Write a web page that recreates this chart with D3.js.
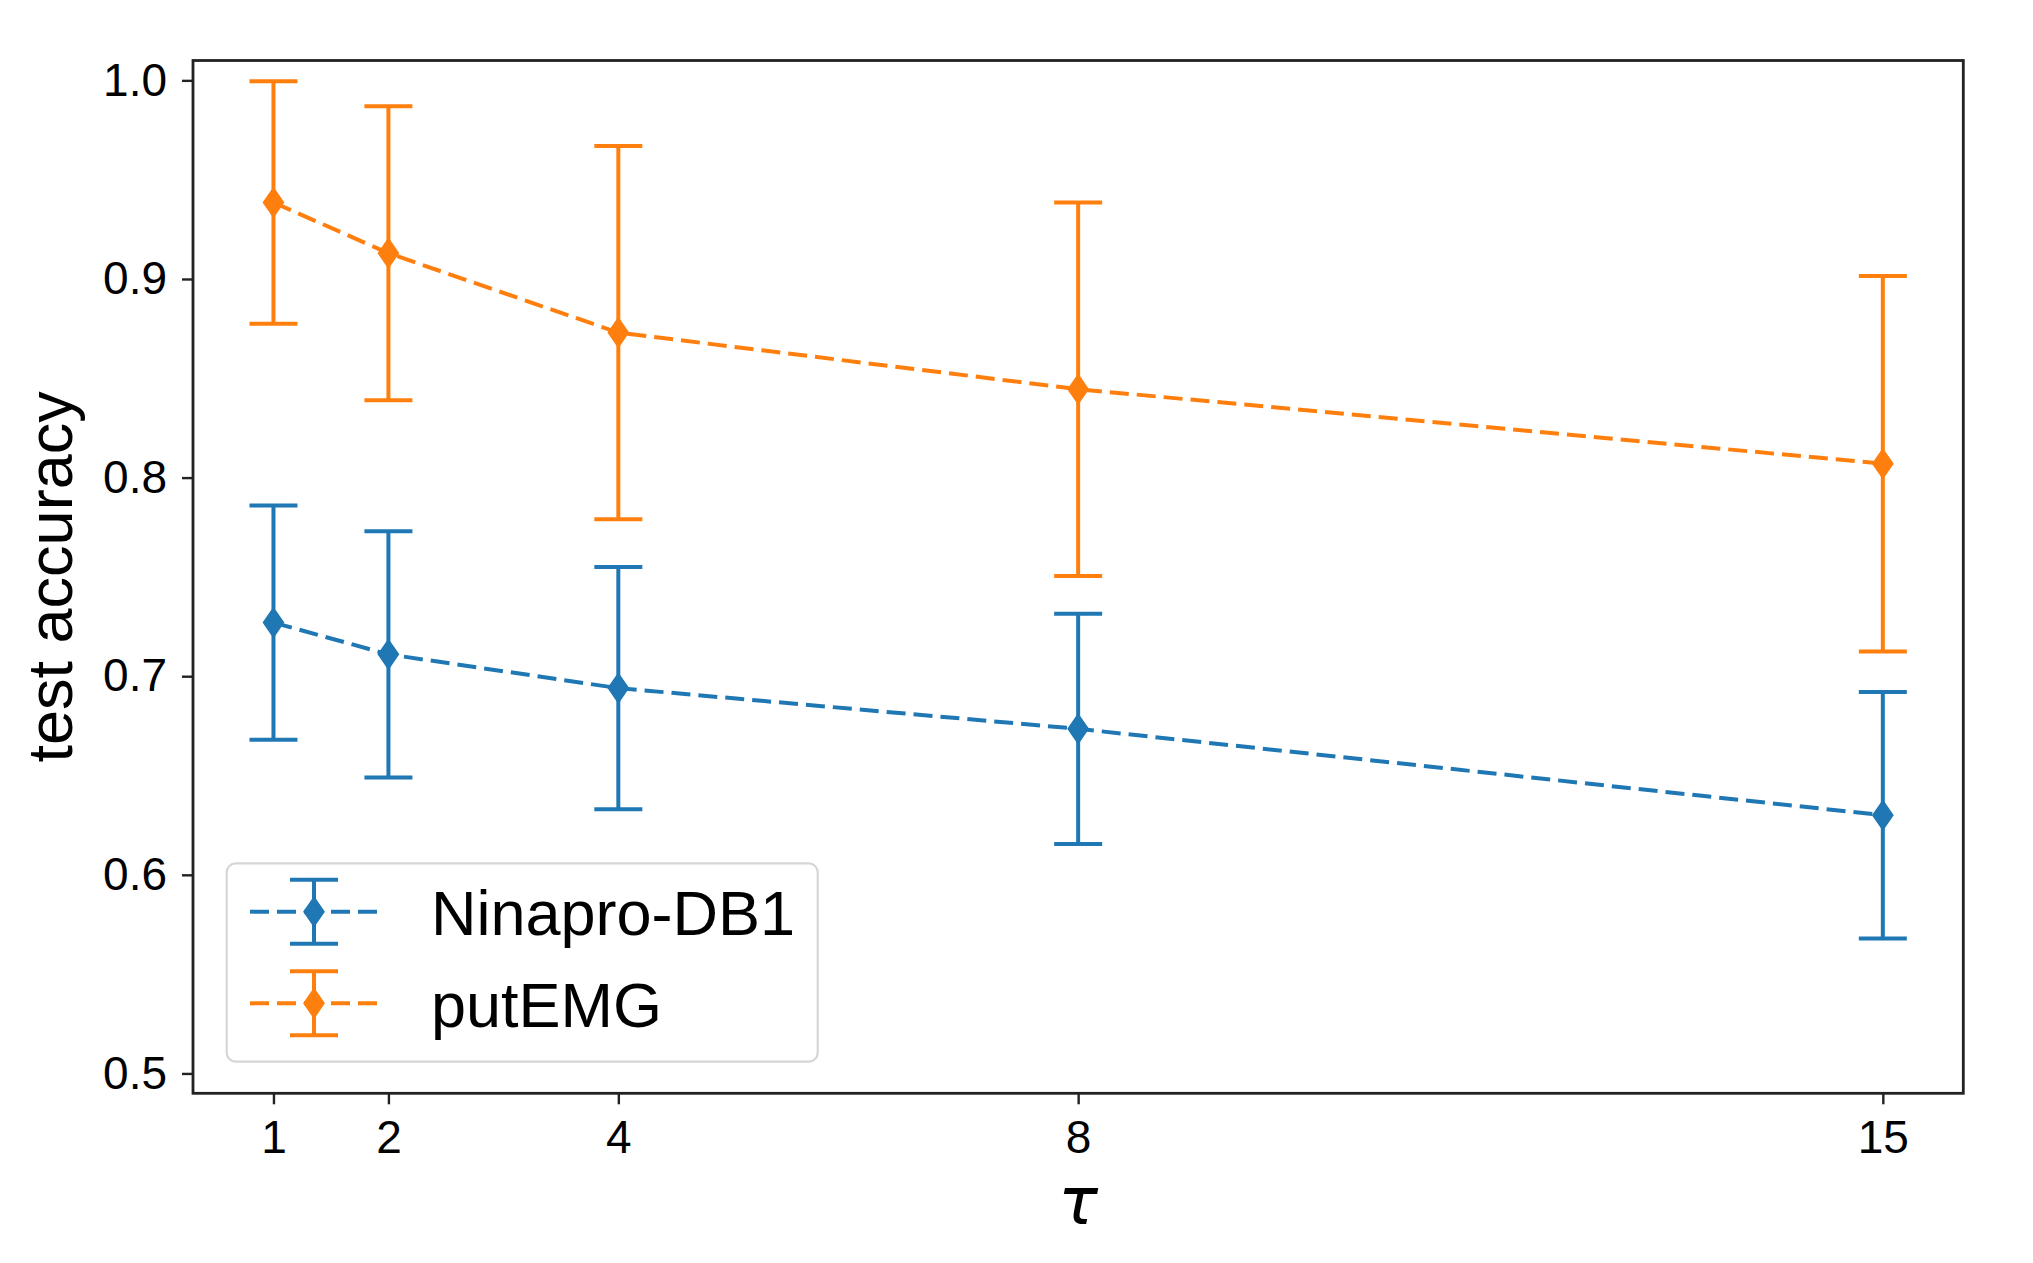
<!DOCTYPE html>
<html>
<head>
<meta charset="utf-8">
<script src="https://cdn.jsdelivr.net/npm/d3@7"></script>
<style>
  html, body { margin: 0; padding: 0; background: #ffffff; }
  svg { display: block; }
</style>
</head>
<body>
<svg id="chart" width="2033" height="1263"></svg>
<script>
// ---- data ----
const taus = [1, 2, 4, 8, 15];
const seriesNames = ["Ninapro-DB1", "putEMG"];
const ninaproMean = [0.727, 0.711, 0.694, 0.6735, 0.630];
const ninaproErr  = [0.059, 0.062, 0.061, 0.058, 0.062];
const putemgMean  = [0.9385, 0.913, 0.873, 0.8445, 0.807];
const putemgErr   = [0.061, 0.074, 0.094, 0.094, 0.0945];
const yTicks = [0.5, 0.6, 0.7, 0.8, 0.9, 1.0];
const xTicks = [1, 2, 4, 8, 15];
const xLabel = "τ";
const yLabel = "test accuracy";

// ---- layout ----
const colors = ["#1f77b4", "#ff7f0e"];
const L = 193, R = 1963.3, T = 60.5, B = 1093.3;
const font = "'Liberation Sans', Arial, Helvetica, sans-serif";

const svg = d3.select("#chart");
svg.append("rect").attr("width", 2033).attr("height", 1263).attr("fill", "#fff");

const x = d3.scaleLinear().domain([0.3, 15.7]).range([L, R]);
const y = d3.scaleLinear().domain([0.49, 1.01]).range([B, T]);

const series = [
  { name: seriesNames[0], mean: ninaproMean, err: ninaproErr, color: colors[0] },
  { name: seriesNames[1], mean: putemgMean, err: putemgErr, color: colors[1] }
];

const lw = 4, capHalf = 24, dash = "19,8";
const diamond = "M0,-14.5L10,0L0,14.5L-10,0Z";

// ---- series ----
const line = d3.line().x(d => x(d.t)).y(d => y(d.m));
series.forEach(s => {
  const pts = taus.map((t, i) => ({ t, m: s.mean[i], e: s.err[i] }));
  const g = svg.append("g");
  g.append("path").datum(pts).attr("d", line)
    .attr("fill", "none").attr("stroke", s.color)
    .attr("stroke-width", lw).attr("stroke-dasharray", dash);
  g.selectAll(".eb").data(pts).enter().append("line")
    .attr("x1", d => x(d.t)).attr("x2", d => x(d.t))
    .attr("y1", d => y(d.m - d.e)).attr("y2", d => y(d.m + d.e))
    .attr("stroke", s.color).attr("stroke-width", lw);
  ["lo", "hi"].forEach(k => {
    g.selectAll(".cap" + k).data(pts).enter().append("line")
      .attr("x1", d => x(d.t) - capHalf).attr("x2", d => x(d.t) + capHalf)
      .attr("y1", d => y(k === "lo" ? d.m - d.e : d.m + d.e))
      .attr("y2", d => y(k === "lo" ? d.m - d.e : d.m + d.e))
      .attr("stroke", s.color).attr("stroke-width", lw);
  });
  g.selectAll(".mk").data(pts).enter().append("path")
    .attr("d", diamond)
    .attr("transform", d => `translate(${x(d.t)},${y(d.m)})`)
    .attr("fill", s.color).attr("stroke", s.color).attr("stroke-width", 1.5);
});

// ---- axes ----
const yAxis = d3.axisLeft(y).tickValues(yTicks).tickFormat(d3.format(".1f"))
  .tickSize(11).tickPadding(15);
const xAxis = d3.axisBottom(x).tickValues(xTicks).tickFormat(d3.format("d"))
  .tickSize(11).tickPadding(16);

const gy = svg.append("g").attr("transform", `translate(${L},0)`).call(yAxis);
const gx = svg.append("g").attr("transform", `translate(0,${B})`).call(xAxis);
[gx, gy].forEach(g => {
  g.select(".domain").remove();
  g.selectAll(".tick line").attr("stroke", "#222").attr("stroke-width", 2.4);
  g.selectAll(".tick text").attr("fill", "#000")
    .style("font-family", font).style("font-size", "46px");
});

// frame
svg.append("rect").attr("x", L).attr("y", T).attr("width", R - L).attr("height", B - T)
  .attr("fill", "none").attr("stroke", "#222").attr("stroke-width", 2.8);

// axis labels
svg.append("text").attr("x", (L + R) / 2).attr("y", 1224)
  .attr("text-anchor", "middle")
  .style("font-family", "'DejaVu Sans', sans-serif").style("font-style", "italic")
  .style("font-size", "66px").attr("fill", "#000").text(xLabel);

svg.append("text")
  .attr("transform", `translate(72,${(T + B) / 2}) rotate(-90)`)
  .attr("text-anchor", "middle")
  .style("font-family", font).style("font-size", "63px").attr("fill", "#000")
  .text(yLabel);

// ---- legend ----
const lg = svg.append("g");
lg.append("rect").attr("x", 226.7).attr("y", 863.3).attr("width", 591).attr("height", 198.4)
  .attr("rx", 9).attr("ry", 9)
  .attr("fill", "#fff").attr("fill-opacity", 0.8)
  .attr("stroke", "#d6d6d6").attr("stroke-width", 2.2);

const rowY = [911.7, 1003.3];
series.forEach((s, i) => {
  const cy = rowY[i], cx = 314;
  lg.append("line").attr("x1", 250).attr("x2", 378).attr("y1", cy).attr("y2", cy)
    .attr("stroke", s.color).attr("stroke-width", lw).attr("stroke-dasharray", dash);
  lg.append("line").attr("x1", cx).attr("x2", cx).attr("y1", cy - 32).attr("y2", cy + 32)
    .attr("stroke", s.color).attr("stroke-width", lw);
  [-32, 32].forEach(o => {
    lg.append("line").attr("x1", cx - capHalf).attr("x2", cx + capHalf)
      .attr("y1", cy + o).attr("y2", cy + o)
      .attr("stroke", s.color).attr("stroke-width", lw);
  });
  lg.append("path").attr("d", diamond).attr("transform", `translate(${cx},${cy})`)
    .attr("fill", s.color).attr("stroke", s.color).attr("stroke-width", 1.5);
  lg.append("text").attr("x", 431).attr("y", cy + 23.5)
    .style("font-family", font).style("font-size", "63px").attr("fill", "#000")
    .text(s.name);
});
</script>
</body>
</html>
